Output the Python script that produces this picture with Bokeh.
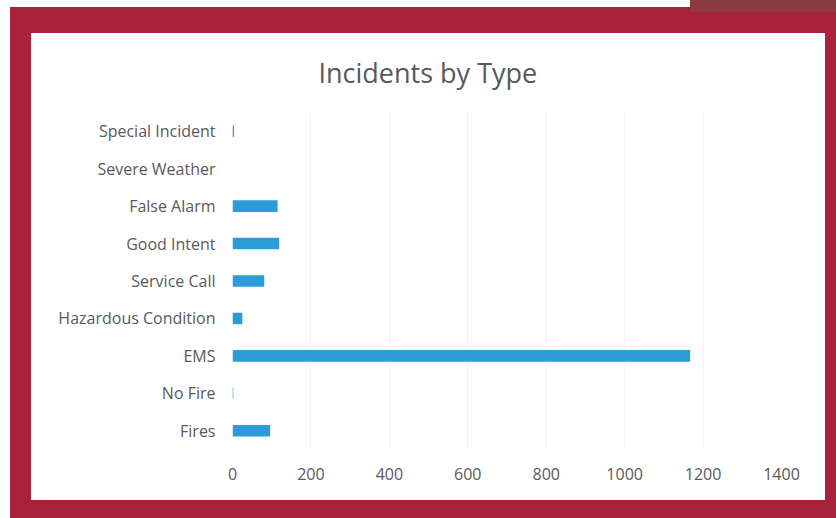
from bokeh.plotting import figure
from bokeh.models import Range1d, FixedTicker
from bokeh.embed import file_html
from bokeh.resources import INLINE

# ---- data ----
categories = ["Fires", "No Fire", "EMS", "Hazardous Condition", "Service Call",
              "Good Intent", "False Alarm", "Severe Weather", "Special Incident"]
incidents = [96, 2, 1167, 25, 81, 119, 115, 0, 4]
x_ticks = [0, 200, 400, 600, 800, 1000, 1200, 1400]
title_text = "Incidents by Type"

W, H = 836, 518
FRAME_RED = "#a8233a"
TEXT = "#595959"
FONT = "Open Sans"

p = figure(width=W, height=H, y_range=categories, x_range=Range1d(0, 1400),
           output_backend="svg", toolbar_location=None,
           min_border_left=232, min_border_right=55,
           min_border_top=112, min_border_bottom=69)

p.hbar(y=categories, right=incidents, left=0, height=0.31,
       color="#2b9cd8", line_color=None)

# transparent canvas border so the framed card drawn by CSS shows through
p.border_fill_color = None
p.background_fill_color = "white"
p.outline_line_color = None
p.styles = {
    "background": (
        "linear-gradient(#8c3b40,#8c3b40) 690px 0px / 146px 12px no-repeat, "
        "linear-gradient(#ffffff,#ffffff) 31px 33px / 794px 467px no-repeat, "
        f"linear-gradient({FRAME_RED},{FRAME_RED}) 10px 7px / 826px 511px no-repeat, "
        "#ffffff"
    )
}

p.title.text = title_text
p.title.text_font = FONT
p.title.text_font_size = "27px"
p.title.text_font_style = "normal"
p.title.text_color = TEXT
p.title.align = "left"
p.title.offset = 86
p.title.standoff = 44

p.xaxis.ticker = FixedTicker(ticks=x_ticks)
p.xaxis.axis_line_color = None
p.xaxis.major_tick_line_color = None
p.xaxis.minor_tick_line_color = None
p.xaxis.major_tick_out = 0
p.xaxis.major_label_standoff = 18
p.xaxis.major_label_text_font = FONT
p.xaxis.major_label_text_font_size = "16px"
p.xaxis.major_label_text_color = TEXT

p.yaxis.axis_line_color = None
p.yaxis.major_tick_line_color = None
p.yaxis.minor_tick_line_color = None
p.yaxis.major_tick_out = 0
p.yaxis.major_label_standoff = 17
p.yaxis.major_label_text_font = FONT
p.yaxis.major_label_text_font_size = "16px"
p.yaxis.major_label_text_color = TEXT

p.ygrid.grid_line_color = None
p.xgrid.grid_line_color = "#f3f3f3"
p.xgrid.ticker = FixedTicker(ticks=x_ticks)

open("out.html", "w").write(file_html(p, INLINE))
